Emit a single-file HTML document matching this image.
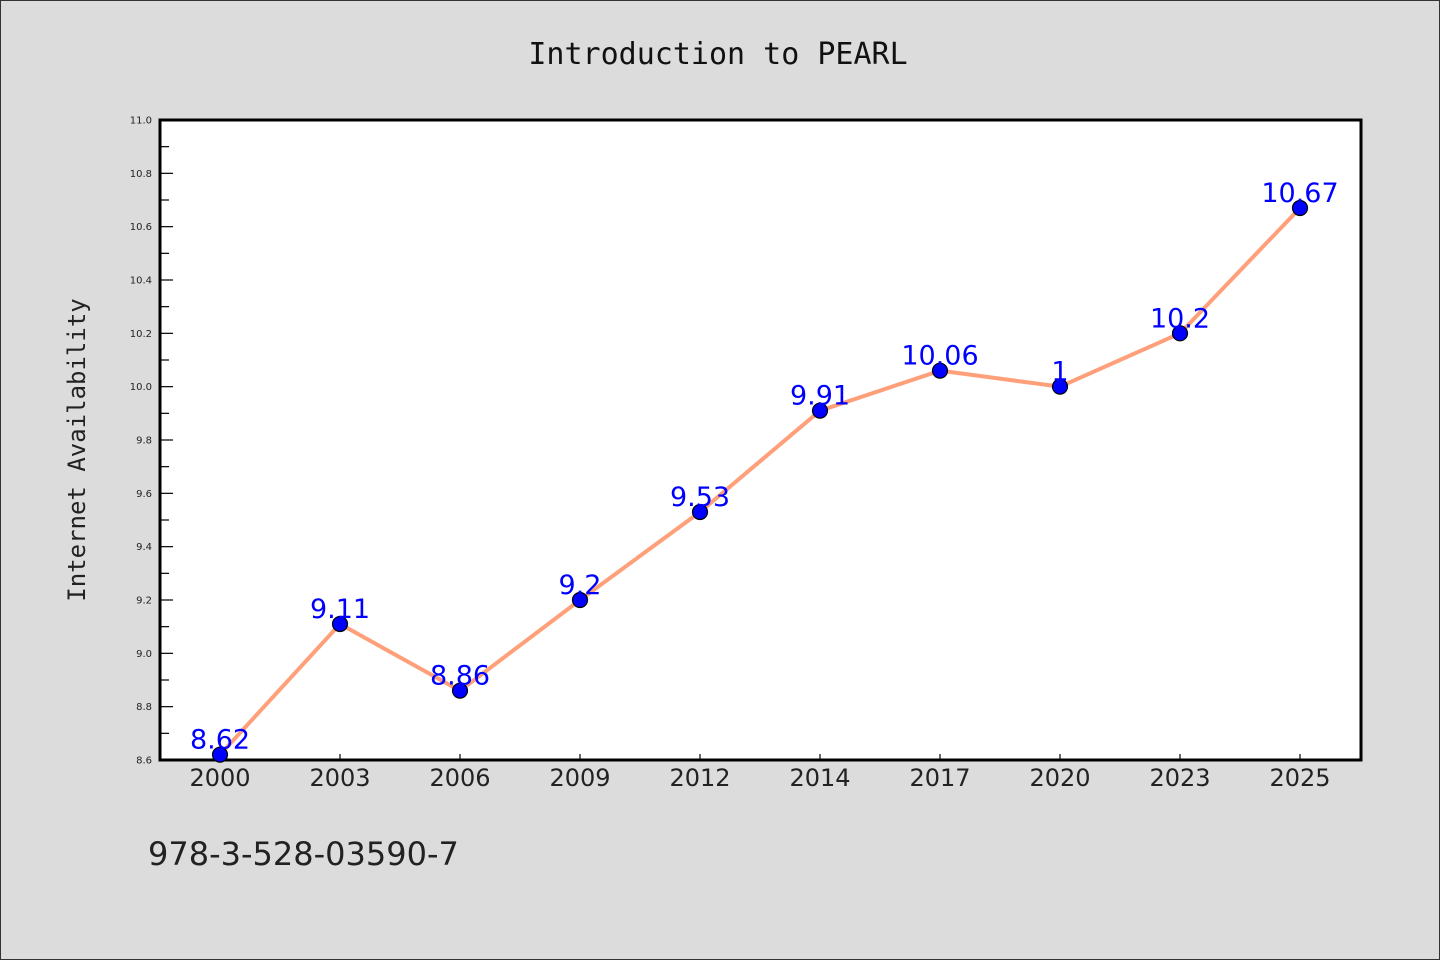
<!DOCTYPE html>
<html><head><meta charset="utf-8"><style>
html,body{margin:0;padding:0;background:#dcdcdc;}
svg{display:block;}
</style></head><body>
<svg id="chart" width="1440" height="960" xmlns="http://www.w3.org/2000/svg">
<rect x="0.5" y="0.5" width="1439" height="959" fill="#dcdcdc" stroke="#333" stroke-width="1"/>
<text x="718" y="64" text-anchor="middle" font-family="DejaVu Sans Mono, Liberation Mono, monospace" font-size="30" fill="#111">Introduction to PEARL</text>
<rect x="160" y="120" width="1201" height="640" fill="#fff" stroke="#000" stroke-width="3"/>
<text transform="translate(85,450) rotate(-90)" text-anchor="middle" font-family="DejaVu Sans Mono, Liberation Mono, monospace" font-size="24" fill="#222">Internet Availability</text>
<text x="148" y="865" font-family="DejaVu Sans, Liberation Sans, sans-serif" font-size="32" fill="#222">978-3-528-03590-7</text>
<g id="axes"></g>
<g id="marks"></g>
</svg>
<script>
const categories = ['2000','2003','2006','2009','2012','2014','2017','2020','2023','2025'];
const values = [8.62, 9.11, 8.86, 9.2, 9.53, 9.91, 10.06, 10.0, 10.2, 10.67];
const pointLabels = ['8.62','9.11','8.86','9.2','9.53','9.91','10.06','1','10.2','10.67'];
const yTicks = [8.6,8.8,9.0,9.2,9.4,9.6,9.8,10.0,10.2,10.4,10.6,10.8,11.0];
const yMin = 8.6, yMax = 11.0;
const NS = 'http://www.w3.org/2000/svg';
const L=160, R=1361, T=120, B=760;
function x(i){ return 220 + i*120; }
function y(v){ return B - (v - yMin)/(yMax - yMin)*(B - T); }
function mk(tag, attrs, parent){ const e=document.createElementNS(NS,tag); for(const k in attrs) e.setAttribute(k, attrs[k]); parent.appendChild(e); return e; }
const axes=document.getElementById('axes'), marks=document.getElementById('marks');
yTicks.forEach((t,i)=>{
  const tk=mk('line',{x1:L,x2:L+13,y1:y(t),y2:y(t),stroke:'#000','stroke-width':1.2},axes);
  
  
  const lb=mk('text',{x:L-8,y:y(t)+3.5,'text-anchor':'end','font-family':'DejaVu Sans, Liberation Sans, sans-serif','font-size':10,fill:'#222'},axes);
  lb.textContent=t.toFixed(1);
  
  
  if(i<yTicks.length-1){
    const m=mk('line',{x1:L,x2:L+9,y1:y(t+0.1),y2:y(t+0.1),stroke:'#000','stroke-width':1.2},axes);
    
    
  }
});
categories.forEach((c,i)=>{
  const tk=mk('line',{x1:x(i),x2:x(i),y1:B,y2:B-6,stroke:'#000','stroke-width':1.2},axes);
  
  
  const lb=mk('text',{x:x(i),y:B+26,'text-anchor':'middle','font-family':'DejaVu Sans, Liberation Sans, sans-serif','font-size':24,fill:'#222'},axes);
  lb.textContent=c;
  
  
});
const line=mk('polyline',{points:values.map((v,i)=>x(i)+','+y(v)).join(' '),fill:'none',stroke:'#ffa07a','stroke-width':4,'stroke-linejoin':'round'},marks);


values.forEach((v,i)=>{
  const c=mk('circle',{cx:x(i),cy:y(v),r:7.5,fill:'#0000ff',stroke:'#000','stroke-width':1.2},marks);
  
  
});
values.forEach((v,i)=>{
  const t=mk('text',{x:x(i),y:y(v)-6,'text-anchor':'middle','font-family':'DejaVu Sans, Liberation Sans, sans-serif','font-size':27,fill:'#0000ff'},marks);
  t.textContent=pointLabels[i];
  
  
});
</script>
</body></html>
